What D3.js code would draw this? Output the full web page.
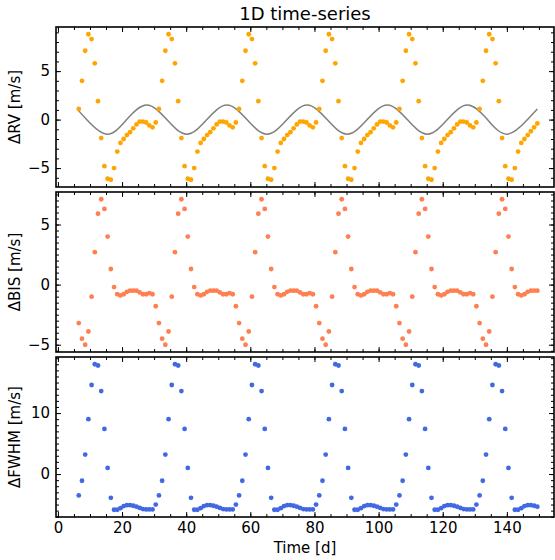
<!DOCTYPE html>
<html>
<head>
<meta charset="utf-8">
<script src="https://cdn.jsdelivr.net/npm/d3@7"></script>
<style>
  body { margin: 0; background: #fff; }
  svg { font-family: "DejaVu Sans", sans-serif; }
</style>
</head>
<body>
<svg id="chart" width="555" height="560"></svg>
<script>
// observation times [d], one line per ~25 d cycle
const time = [
  6.5, 7.5, 8.5, 9.5, 10.5, 11.5, 12.5, 13.5, 14.5, 15.5, 16.5, 17.5, 18.5, 19.5, 20.5, 21.5, 22.5, 23.5, 24.5, 25.5, 26.5, 27.5, 28.5, 29.5, 30.5,
  31.5, 32.5, 33.5, 34.5, 35.5, 36.5, 37.5, 38.5, 39.5, 40.5, 41.5, 42.5, 43.5, 44.5, 45.5, 46.5, 47.5, 48.5, 49.5, 50.5, 51.5, 52.5, 53.5, 54.5, 55.5,
  56.5, 57.5, 58.5, 59.5, 60.5, 61.5, 62.5, 63.5, 64.5, 65.5, 66.5, 67.5, 68.5, 69.5, 70.5, 71.5, 72.5, 73.5, 74.5, 75.5, 76.5, 77.5, 78.5, 79.5, 80.5,
  81.5, 82.5, 83.5, 84.5, 85.5, 86.5, 87.5, 88.5, 89.5, 90.5, 91.5, 92.5, 93.5, 94.5, 95.5, 96.5, 97.5, 98.5, 99.5, 100.5, 101.5, 102.5, 103.5, 104.5, 105.5,
  106.5, 107.5, 108.5, 109.5, 110.5, 111.5, 112.5, 113.5, 114.5, 115.5, 116.5, 117.5, 118.5, 119.5, 120.5, 121.5, 122.5, 123.5, 124.5, 125.5, 126.5, 127.5, 128.5, 129.5, 130.5,
  131.5, 132.5, 133.5, 134.5, 135.5, 136.5, 137.5, 138.5, 139.5, 140.5, 141.5, 142.5, 143.5, 144.5, 145.5, 146.5, 147.5, 148.5, 149.5
];

const rv = [
  1.1, 4.0, 7.1, 8.8, 8.3, 5.8, 1.9, -1.9, -4.8, -6.1, -6.2, -5.0, -3.3, -2.4, -2.0, -1.6, -1.3, -0.9, -0.5, -0.2, -0.2, -0.3, -0.6, -0.8, -0.3,
  1.1, 4.0, 7.1, 8.8, 8.3, 5.8, 1.9, -1.9, -4.8, -6.1, -6.2, -5.0, -3.3, -2.4, -2.0, -1.6, -1.3, -0.9, -0.5, -0.2, -0.2, -0.3, -0.6, -0.8, -0.3,
  1.1, 4.0, 7.1, 8.8, 8.3, 5.8, 1.9, -1.9, -4.8, -6.1, -6.2, -5.0, -3.3, -2.4, -2.0, -1.6, -1.3, -0.9, -0.5, -0.2, -0.2, -0.3, -0.6, -0.8, -0.3,
  1.1, 4.0, 7.1, 8.8, 8.3, 5.8, 1.9, -1.9, -4.8, -6.1, -6.2, -5.0, -3.3, -2.4, -2.0, -1.6, -1.3, -0.9, -0.5, -0.2, -0.2, -0.3, -0.6, -0.8, -0.3,
  1.1, 4.0, 7.1, 8.8, 8.3, 5.8, 1.9, -1.9, -4.8, -6.1, -6.2, -5.0, -3.3, -2.4, -2.0, -1.6, -1.3, -0.9, -0.5, -0.2, -0.2, -0.3, -0.6, -0.8, -0.3,
  1.1, 4.0, 7.1, 8.8, 8.3, 5.8, 1.9, -1.9, -4.8, -6.1, -6.2, -5.0, -3.3, -2.4, -2.0, -1.6, -1.2, -0.8, -0.4
];

const bis = [
  -3.2, -4.5, -5.0, -3.9, -1.0, 2.7, 5.9, 7.1, 6.3, 4.0, 1.3, -0.2, -0.8, -0.9, -0.8, -0.6, -0.5, -0.5, -0.5, -0.65, -0.8, -0.8, -0.7, -0.8, -1.8,
  -3.2, -4.5, -5.0, -3.9, -1.0, 2.7, 5.9, 7.1, 6.3, 4.0, 1.3, -0.2, -0.8, -0.9, -0.8, -0.6, -0.5, -0.5, -0.5, -0.65, -0.8, -0.8, -0.7, -0.8, -1.8,
  -3.2, -4.5, -5.0, -3.9, -1.0, 2.7, 5.9, 7.1, 6.3, 4.0, 1.3, -0.2, -0.8, -0.9, -0.8, -0.6, -0.5, -0.5, -0.5, -0.65, -0.8, -0.8, -0.7, -0.8, -1.8,
  -3.2, -4.5, -5.0, -3.9, -1.0, 2.7, 5.9, 7.1, 6.3, 4.0, 1.3, -0.2, -0.8, -0.9, -0.8, -0.6, -0.5, -0.5, -0.5, -0.65, -0.8, -0.8, -0.7, -0.8, -1.8,
  -3.2, -4.5, -5.0, -3.9, -1.0, 2.7, 5.9, 7.1, 6.3, 4.0, 1.3, -0.2, -0.8, -0.9, -0.8, -0.6, -0.5, -0.5, -0.5, -0.65, -0.8, -0.8, -0.7, -0.8, -1.8,
  -3.2, -4.5, -5.0, -3.9, -1.0, 2.7, 5.9, 7.1, 6.3, 4.0, 1.3, -0.2, -0.8, -0.9, -0.8, -0.6, -0.5, -0.5, -0.5
];

const fwhm = [
  -3.5, -1.1, 3.2, 9.0, 14.6, 18.0, 17.8, 13.6, 7.4, 1.0, -3.9, -5.85, -5.85, -5.6, -5.25, -5.1, -5.1, -5.2, -5.35, -5.55, -5.75, -5.8, -5.8, -5.8, -5.0,
  -3.5, -1.1, 3.2, 9.0, 14.6, 18.0, 17.8, 13.6, 7.4, 1.0, -3.9, -5.85, -5.85, -5.6, -5.25, -5.1, -5.1, -5.2, -5.35, -5.55, -5.75, -5.8, -5.8, -5.8, -5.0,
  -3.5, -1.1, 3.2, 9.0, 14.6, 18.0, 17.8, 13.6, 7.4, 1.0, -3.9, -5.85, -5.85, -5.6, -5.25, -5.1, -5.1, -5.2, -5.35, -5.55, -5.75, -5.8, -5.8, -5.8, -5.0,
  -3.5, -1.1, 3.2, 9.0, 14.6, 18.0, 17.8, 13.6, 7.4, 1.0, -3.9, -5.85, -5.85, -5.6, -5.25, -5.1, -5.1, -5.2, -5.35, -5.55, -5.75, -5.8, -5.8, -5.8, -5.0,
  -3.5, -1.1, 3.2, 9.0, 14.6, 18.0, 17.8, 13.6, 7.4, 1.0, -3.9, -5.85, -5.85, -5.6, -5.25, -5.1, -5.1, -5.2, -5.35, -5.55, -5.75, -5.8, -5.8, -5.8, -5.0,
  -3.5, -1.1, 3.2, 9.0, 14.6, 18.0, 17.8, 13.6, 7.4, 1.0, -3.9, -5.85, -5.85, -5.6, -5.25, -5.1, -5.1, -5.2, -5.35
];

// grey model curve in the RV panel, read at its extremes and zero crossings
const sineTime = [6.5, 8.95, 15.2, 21.45, 27.7, 33.95, 40.2, 46.45, 52.7, 58.95, 65.2, 71.45, 77.7,
                  83.95, 90.2, 96.45, 102.7, 108.95, 115.2, 121.45, 127.7, 133.95, 140.2, 146.45, 149.5];
const sineValue = [0.9, 0, -1.5, 0, 1.5, 0, -1.5, 0, 1.5, 0, -1.5, 0, 1.5,
                   0, -1.5, 0, 1.5, 0, -1.5, 0, 1.5, 0, -1.5, 0, 1.1];

const xTicks = [0, 20, 40, 60, 80, 100, 120, 140];

const svg = d3.select('#chart');
const margin = {left: 56, right: 554};
const panelH = 160;
const panelTops = [27, 192, 357];
const fontSize = 15;

const x = d3.scaleLinear().domain([-0.6, 154.7]).range([margin.left, margin.right]);
const xMinor = d3.range(0, 155, 5);

const panels = [
  {values: rv, color: 'orange', label: 'ΔRV [m/s]', major: [-5, 0, 5], minorStep: 1},
  {values: bis, color: 'coral', label: 'ΔBIS [m/s]', major: [-5, 0, 5], minorStep: 0.5},
  {values: fwhm, color: 'royalblue', label: 'ΔFWHM [m/s]', major: [0, 10], minorStep: 1}
];

const fmt = d3.format('d');

function ticks(g, axis, values, size, labels, pad) {
  const ax = axis.tickValues(values).tickSizeInner(-size).tickSizeOuter(0).tickPadding(pad || 6);
  if (!labels) ax.tickFormat('');
  else ax.tickFormat(fmt);
  g.call(ax);
  g.select('.domain').remove();
  g.attr('font-size', fontSize).attr('font-family', '"DejaVu Sans", sans-serif');
  g.selectAll('.tick line').attr('stroke', '#000').attr('stroke-width', 1);
  g.selectAll('.tick text').attr('fill', '#000');
}

panels.forEach((p, i) => {
  const top = panelTops[i];
  const bottom = top + panelH;
  const [lo, hi] = d3.extent(p.values);
  const padv = (hi - lo) * 0.05;
  const y = d3.scaleLinear().domain([lo - padv, hi + padv]).range([bottom, top]);
  const yd = y.domain();
  const yMinor = d3.range(Math.ceil(yd[0] / p.minorStep) * p.minorStep, yd[1], p.minorStep);

  const g = svg.append('g');

  if (i === 0) {
    const line = d3.line().x((d, k) => x(sineTime[k])).y(d => y(d)).curve(d3.curveNatural);
    g.append('path').attr('d', line(sineValue))
      .attr('fill', 'none').attr('stroke', 'grey').attr('stroke-width', 1.5);
  }

  g.selectAll('circle').data(p.values).enter().append('circle')
    .attr('cx', (d, k) => x(time[k])).attr('cy', d => y(d)).attr('r', 2.4)
    .attr('fill', p.color);

  // ticks pointing inward on all four sides
  const isBottom = i === panels.length - 1;
  ticks(g.append('g').attr('transform', `translate(0,${bottom})`), d3.axisBottom(x), xMinor, 3, false);
  ticks(g.append('g').attr('transform', `translate(0,${bottom})`), d3.axisBottom(x), xTicks, 5, isBottom, 5);
  ticks(g.append('g').attr('transform', `translate(0,${top})`), d3.axisTop(x), xMinor, 3, false);
  ticks(g.append('g').attr('transform', `translate(0,${top})`), d3.axisTop(x), xTicks, 5, false);
  ticks(g.append('g').attr('transform', `translate(${margin.left},0)`), d3.axisLeft(y), yMinor, 3, false);
  ticks(g.append('g').attr('transform', `translate(${margin.left},0)`), d3.axisLeft(y), p.major, 5, true, 6);
  ticks(g.append('g').attr('transform', `translate(${margin.right},0)`), d3.axisRight(y), yMinor, 3, false);
  ticks(g.append('g').attr('transform', `translate(${margin.right},0)`), d3.axisRight(y), p.major, 5, false);

  g.append('rect').attr('x', margin.left).attr('y', top)
    .attr('width', margin.right - margin.left).attr('height', panelH)
    .attr('fill', 'none').attr('stroke', '#000').attr('stroke-width', 1.6);

  svg.append('text')
    .attr('transform', `translate(20,${top + panelH / 2}) rotate(-90)`)
    .attr('text-anchor', 'middle').attr('font-size', fontSize)
    .text(p.label);
});

svg.append('text').attr('x', (margin.left + margin.right) / 2).attr('y', 20)
  .attr('text-anchor', 'middle').attr('font-size', 18).text('1D time-series');

svg.append('text').attr('x', (margin.left + margin.right) / 2).attr('y', 553)
  .attr('text-anchor', 'middle').attr('font-size', fontSize).text('Time [d]');
</script>
</body>
</html>
